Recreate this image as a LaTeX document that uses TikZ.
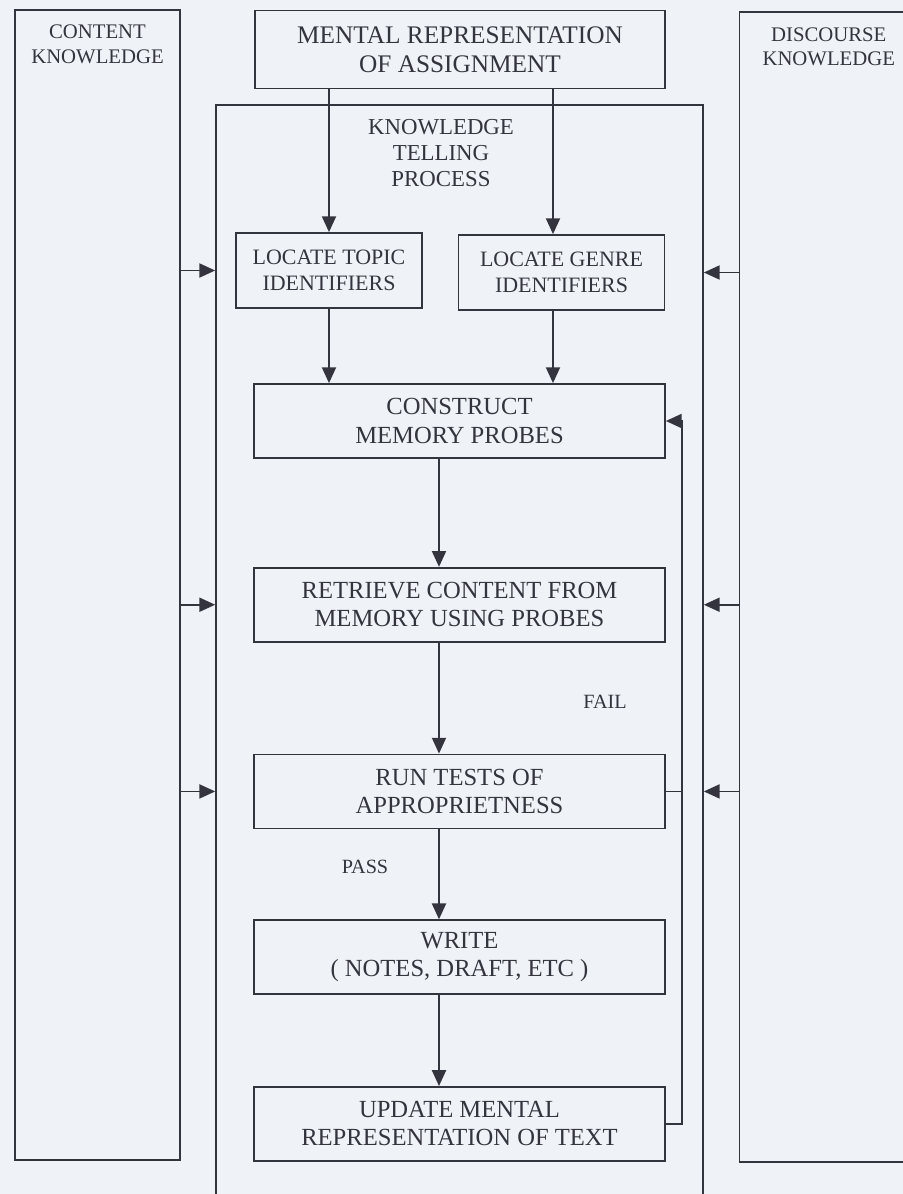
\documentclass[tikz,border=0pt]{standalone}
\usepackage{fontspec}
\setmainfont{Liberation Serif}
\usetikzlibrary{arrows.meta, positioning}
\definecolor{paper}{RGB}{239,242,247}
\definecolor{ink}{RGB}{52,52,62}

\begin{document}
\begin{tikzpicture}[
    x=0.02cm, y=-0.02cm,
    color=ink,
    line width=1pt,
    font=\fontsize{14}{16}\selectfont,
    box/.style={draw, minimum width=8.22cm, minimum height=1.48cm, align=center, inner sep=2pt},
    smallbox/.style={box, minimum height=1.5cm, font=\fontsize{12.5}{14.5}\selectfont},
    sidebox/.style={draw, minimum height=23cm},
    sidetext/.style={anchor=north, yshift=-8.5pt, inner sep=0pt, align=center, font=\fontsize{11.8}{14.2}\selectfont},
    note/.style={font=\fontsize{11.5}{12}\selectfont},
    arrow/.style={-{Triangle[length=9pt, width=8pt]}}
]

\useasboundingbox (0,0) rectangle (903,1194);
\fill[paper] (0,0) rectangle (903,1194);
\clip (0,0) rectangle (903,1194);

% Knowledge sources
\node[sidebox, minimum width=3.3cm, label={[sidetext]north:CONTENT\\KNOWLEDGE}] (content) at (97.5,585) {};
\node[sidebox, minimum width=3.57cm, label={[sidetext]north:DISCOURSE\\KNOWLEDGE}] (discourse) at (828.75,587.25) {};

% Assignment and process frame
\node[box, minimum width=8.2cm, minimum height=1.56cm, font=\fontsize{14.4}{16.5}\selectfont] (assign) at (460,49.5) {MENTAL REPRESENTATION\\OF ASSIGNMENT};
\node[draw, minimum width=9.74cm, minimum height=22.9cm] (process) at (459.5,677.5) {};
\node[align=center, font=\fontsize{13}{14.7}\selectfont] (title) at (441,153) {KNOWLEDGE\\TELLING\\PROCESS};

% Identifiers
\node[smallbox, minimum width=3.72cm] (topic) at (329,270.5) {LOCATE TOPIC\\IDENTIFIERS};
\node[smallbox, minimum width=4.12cm] (genre) at (561.5,272.5) {LOCATE GENRE\\IDENTIFIERS};

% Main column
\node[box] (construct) at (459.5,421) {CONSTRUCT\\MEMORY PROBES};
\node[box, below=2.16cm of construct] (retrieve) {RETRIEVE CONTENT FROM\\MEMORY USING PROBES};
\node[box, below=2.22cm of retrieve] (tests) {RUN TESTS OF\\APPROPRIETNESS};
\node[box, below=1.8cm of tests] (write) {WRITE\\( NOTES, DRAFT, ETC )};
\node[box, below=1.82cm of write] (update) {UPDATE MENTAL\\REPRESENTATION OF TEXT};

% Labels
\node[note] (fail) at (605,702) {FAIL};
\node[note] (pass) at (365,867) {PASS};

% Connector columns
\coordinate (tcol) at (329,0);
\coordinate (gcol) at (553,0);
\coordinate (spine) at (439,0);
\coordinate (loop) at (682,0);

% Edges
\draw[arrow] (assign.south -| tcol) -- (topic.north -| tcol);
\draw[arrow] (assign.south -| gcol) -- (genre.north -| gcol);
\draw[arrow] (topic.south -| tcol) -- (construct.north -| tcol);
\draw[arrow] (genre.south -| gcol) -- (construct.north -| gcol);
\draw[arrow] (construct.south -| spine) -- (retrieve.north -| spine);
\draw[arrow] (retrieve.south -| spine) -- (tests.north -| spine);
\draw[arrow] (tests.south -| spine) -- (write.north -| spine);
\draw[arrow] (write.south -| spine) -- (update.north -| spine);

% Feedback loop
\draw[arrow] (update.east) -- (update.east -| loop) -- (loop |- construct.east) -- (construct.east);
\draw (tests.east) -- (tests.east -| loop);

% Knowledge inputs
\foreach \n in {topic, retrieve, tests}
    \draw[arrow] (content.east |- \n) -- (process.west |- \n);
\foreach \n in {genre, retrieve, tests}
    \draw[arrow] (discourse.west |- \n) -- (process.east |- \n);

\end{tikzpicture}
\end{document}
